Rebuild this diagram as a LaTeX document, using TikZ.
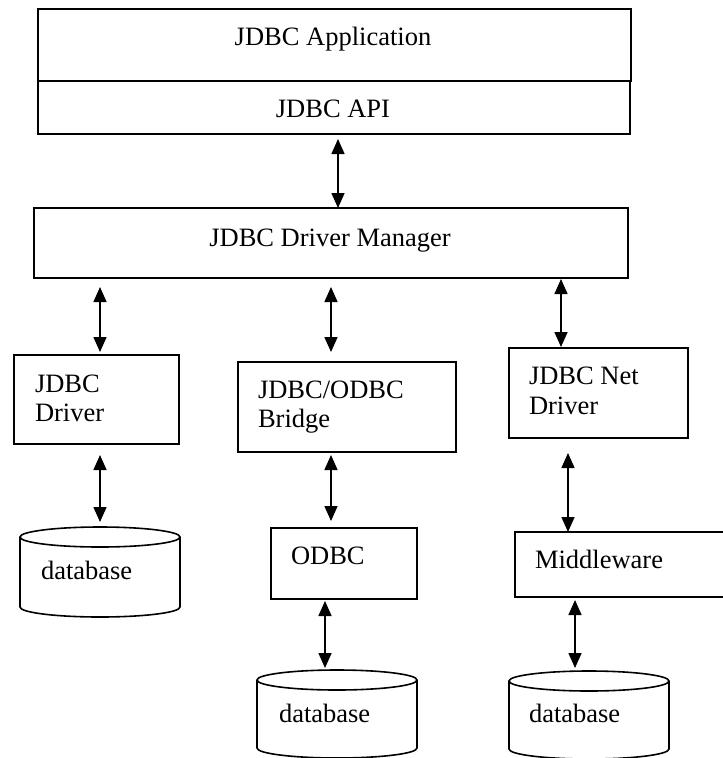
\documentclass[tikz,border=0pt]{standalone}
\usepackage{fontspec}
\setmainfont{Liberation Serif}
\usetikzlibrary{arrows.meta}
\tikzset{
  lbl/.style={inner sep=0pt, outer sep=0pt, font=\fontsize{26.5}{30}\selectfont},
  boxnode/.style={draw, line width=1.6pt, inner sep=0pt, outer sep=0pt, anchor=north west},
  dbnode/.style={inner sep=0pt, outer sep=0pt, anchor=north west, minimum width=160pt, minimum height=90pt},
  link/.style={line width=1.6pt, {Triangle[width=13pt,length=15pt]}-{Triangle[width=13pt,length=15pt]}},
  dbline/.style={line width=1.6pt}
}
\newcommand\dbdraw[1]{%
  \draw[dbline] ([yshift=-10pt]#1.north west) -- ([yshift=10pt]#1.south west)
     arc[start angle=180,end angle=360,x radius=80pt,y radius=10pt]
     -- ([yshift=-10pt]#1.north east);
  \draw[dbline] ([yshift=-10pt]#1.north) ellipse[x radius=80pt,y radius=10pt];}
\begin{document}
\begin{tikzpicture}[x=1pt,y=-1pt]
\path[use as bounding box] (0,0) rectangle (723,758);
\clip (0,0) rectangle (723,758);

% boxes
\node[boxnode, minimum width=593pt, minimum height=72pt] (app) at (38,9) {};
\node[boxnode, minimum width=592pt, minimum height=53pt] (api) at (38,81) {};
\node[boxnode, minimum width=594pt, minimum height=70pt] (mgr) at (34,208) {};
\node[boxnode, minimum width=165pt, minimum height=89pt] (drv) at (14,355) {};
\node[boxnode, minimum width=218pt, minimum height=90pt] (brg) at (238,362) {};
\node[boxnode, minimum width=179pt, minimum height=90pt] (net) at (509,348) {};
\node[boxnode, minimum width=146pt, minimum height=71pt] (odbc) at (271,528) {};
\node[boxnode, minimum width=220pt, minimum height=65pt] (mid) at (515,532) {};
\node[dbnode] (db1) at (20,527) {};
\node[dbnode, minimum height=88pt] (db2) at (257,670) {};
\node[dbnode, minimum height=88pt] (db3) at (509,671) {};
\dbdraw{db1}
\dbdraw{db2}
\dbdraw{db3}

% texts
\node[lbl, anchor=base] (appT) at (333,45) {JDBC Application};
\node[lbl, anchor=base] (apiT) at (333,117) {JDBC API};
\node[lbl, anchor=base] (mgrT) at (330,246) {JDBC Driver Manager};
\node[lbl, anchor=base west] (drvT1) at (35,392) {JDBC};
\node[lbl, anchor=base west] (drvT2) at (35,421) {Driver};
\node[lbl, anchor=base west] (brgT1) at (258,398) {JDBC/ODBC};
\node[lbl, anchor=base west] (brgT2) at (258,427) {Bridge};
\node[lbl, anchor=base west] (netT1) at (529,384) {JDBC Net};
\node[lbl, anchor=base west] (netT2) at (529,414) {Driver};
\node[lbl, anchor=base west] (db1T) at (41,579) {database};
\node[lbl, anchor=base west] (odbcT) at (291,564) {ODBC};
\node[lbl, anchor=base west] (midT) at (535,568) {Middleware};
\node[lbl, anchor=base west] (db2T) at (279,722) {database};
\node[lbl, anchor=base west] (db3T) at (529,722) {database};

% connectors
\draw[link, shorten <=5pt] (api.south -| 338,0) -- (mgr.north -| 338,0);
\draw[link, shorten <=9pt, shorten >=3pt] (mgr.south -| 100,0) -- (drv.north -| 100,0);
\draw[link, shorten <=9pt, shorten >=10pt] (mgr.south -| 331,0) -- (brg.north -| 331,0);
\draw[link, shorten <=1pt, shorten >=1pt] (mgr.south -| 561,0) -- (net.north -| 561,0);
\draw[link, shorten <=11pt, shorten >=5pt] (drv.south -| 100,0) -- (db1.north -| 100,0);
\draw[link, shorten <=3pt, shorten >=7pt] (brg.south -| 331,0) -- (odbc.north -| 331,0);
\draw[link, shorten <=15pt] (net.south -| 568,0) -- (mid.north -| 568,0);
\draw[link, shorten <=2pt, shorten >=2pt] (odbc.south -| 325,0) -- (db2.north -| 325,0);
\draw[link, shorten <=3pt, shorten >=3pt] (mid.south -| 575,0) -- (db3.north -| 575,0);
\end{tikzpicture}
\end{document}
